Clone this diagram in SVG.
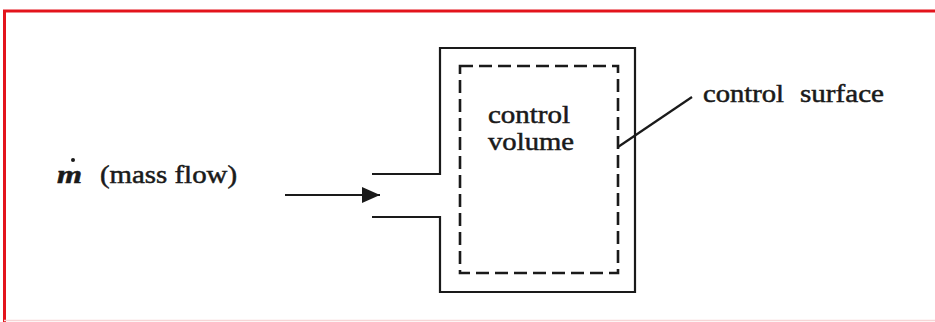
<svg xmlns="http://www.w3.org/2000/svg" width="935" height="322" viewBox="0 0 935 322">
  <style>
    .frame { fill: none; stroke: #e3141c; stroke-width: 3; }
    .wall { fill: none; stroke: #1a1a1a; stroke-width: 2.2; }
    .cs { fill: none; stroke: #1a1a1a; stroke-width: 2.6; stroke-dasharray: 13 6; }
    .lead { fill: none; stroke: #1a1a1a; stroke-width: 2.2; }
    .lbl { font-family: 'Liberation Serif', 'DejaVu Serif', 'Times New Roman', serif; font-size: 25px; fill: #1a1a1a; stroke: #1a1a1a; stroke-width: 0.5; }
  </style>
  <defs>
    <marker id="head" viewBox="0 0 18 16" refX="18" refY="8" markerWidth="18" markerHeight="16" markerUnits="userSpaceOnUse" orient="auto">
      <path d="M0,0 L18,8 L0,16 Z" fill="#1a1a1a"/>
    </marker>
  </defs>
  <rect width="935" height="322" fill="#ffffff"/>
  <!-- page frame: red top and left edges -->
  <path class="frame" d="M4.5,322 L4.5,11 L935,11"/>
  <line x1="4" y1="320.5" x2="935" y2="320.5" stroke="#f6d6d6" stroke-width="1.5"/>

  <g id="vessel">
    <path class="wall" d="M372,174 L440,174 L440,48 L635,48 L635,292 L440,292 L440,217 L372,217"/>
  </g>

  <g id="control-volume">
    <rect class="cs" x="460" y="66" width="158" height="207"/>
    <text class="lbl" x="488" y="123" textLength="82" lengthAdjust="spacingAndGlyphs">control</text>
    <text class="lbl" x="488" y="150" textLength="86" lengthAdjust="spacingAndGlyphs">volume</text>
  </g>

  <g id="control-surface-label">
    <text class="lbl" x="703" y="102" textLength="81" lengthAdjust="spacingAndGlyphs">control</text>
    <text class="lbl" x="800" y="102" textLength="84" lengthAdjust="spacingAndGlyphs">surface</text>
  </g>

  <g id="mass-flow-label">
    <text class="lbl" x="57" y="183" font-style="italic" font-weight="bold" textLength="25" lengthAdjust="spacingAndGlyphs">m</text>
    <circle cx="73" cy="160" r="2" fill="#1a1a1a"/>
    <text class="lbl" x="100" y="183" textLength="137" lengthAdjust="spacingAndGlyphs">(mass flow)</text>
  </g>

  <g id="connectors">
    <line class="lead" x1="618" y1="147" x2="692" y2="97"/>
    <line class="lead" x1="285" y1="195" x2="380" y2="195" marker-end="url(#head)"/>
  </g>
</svg>
